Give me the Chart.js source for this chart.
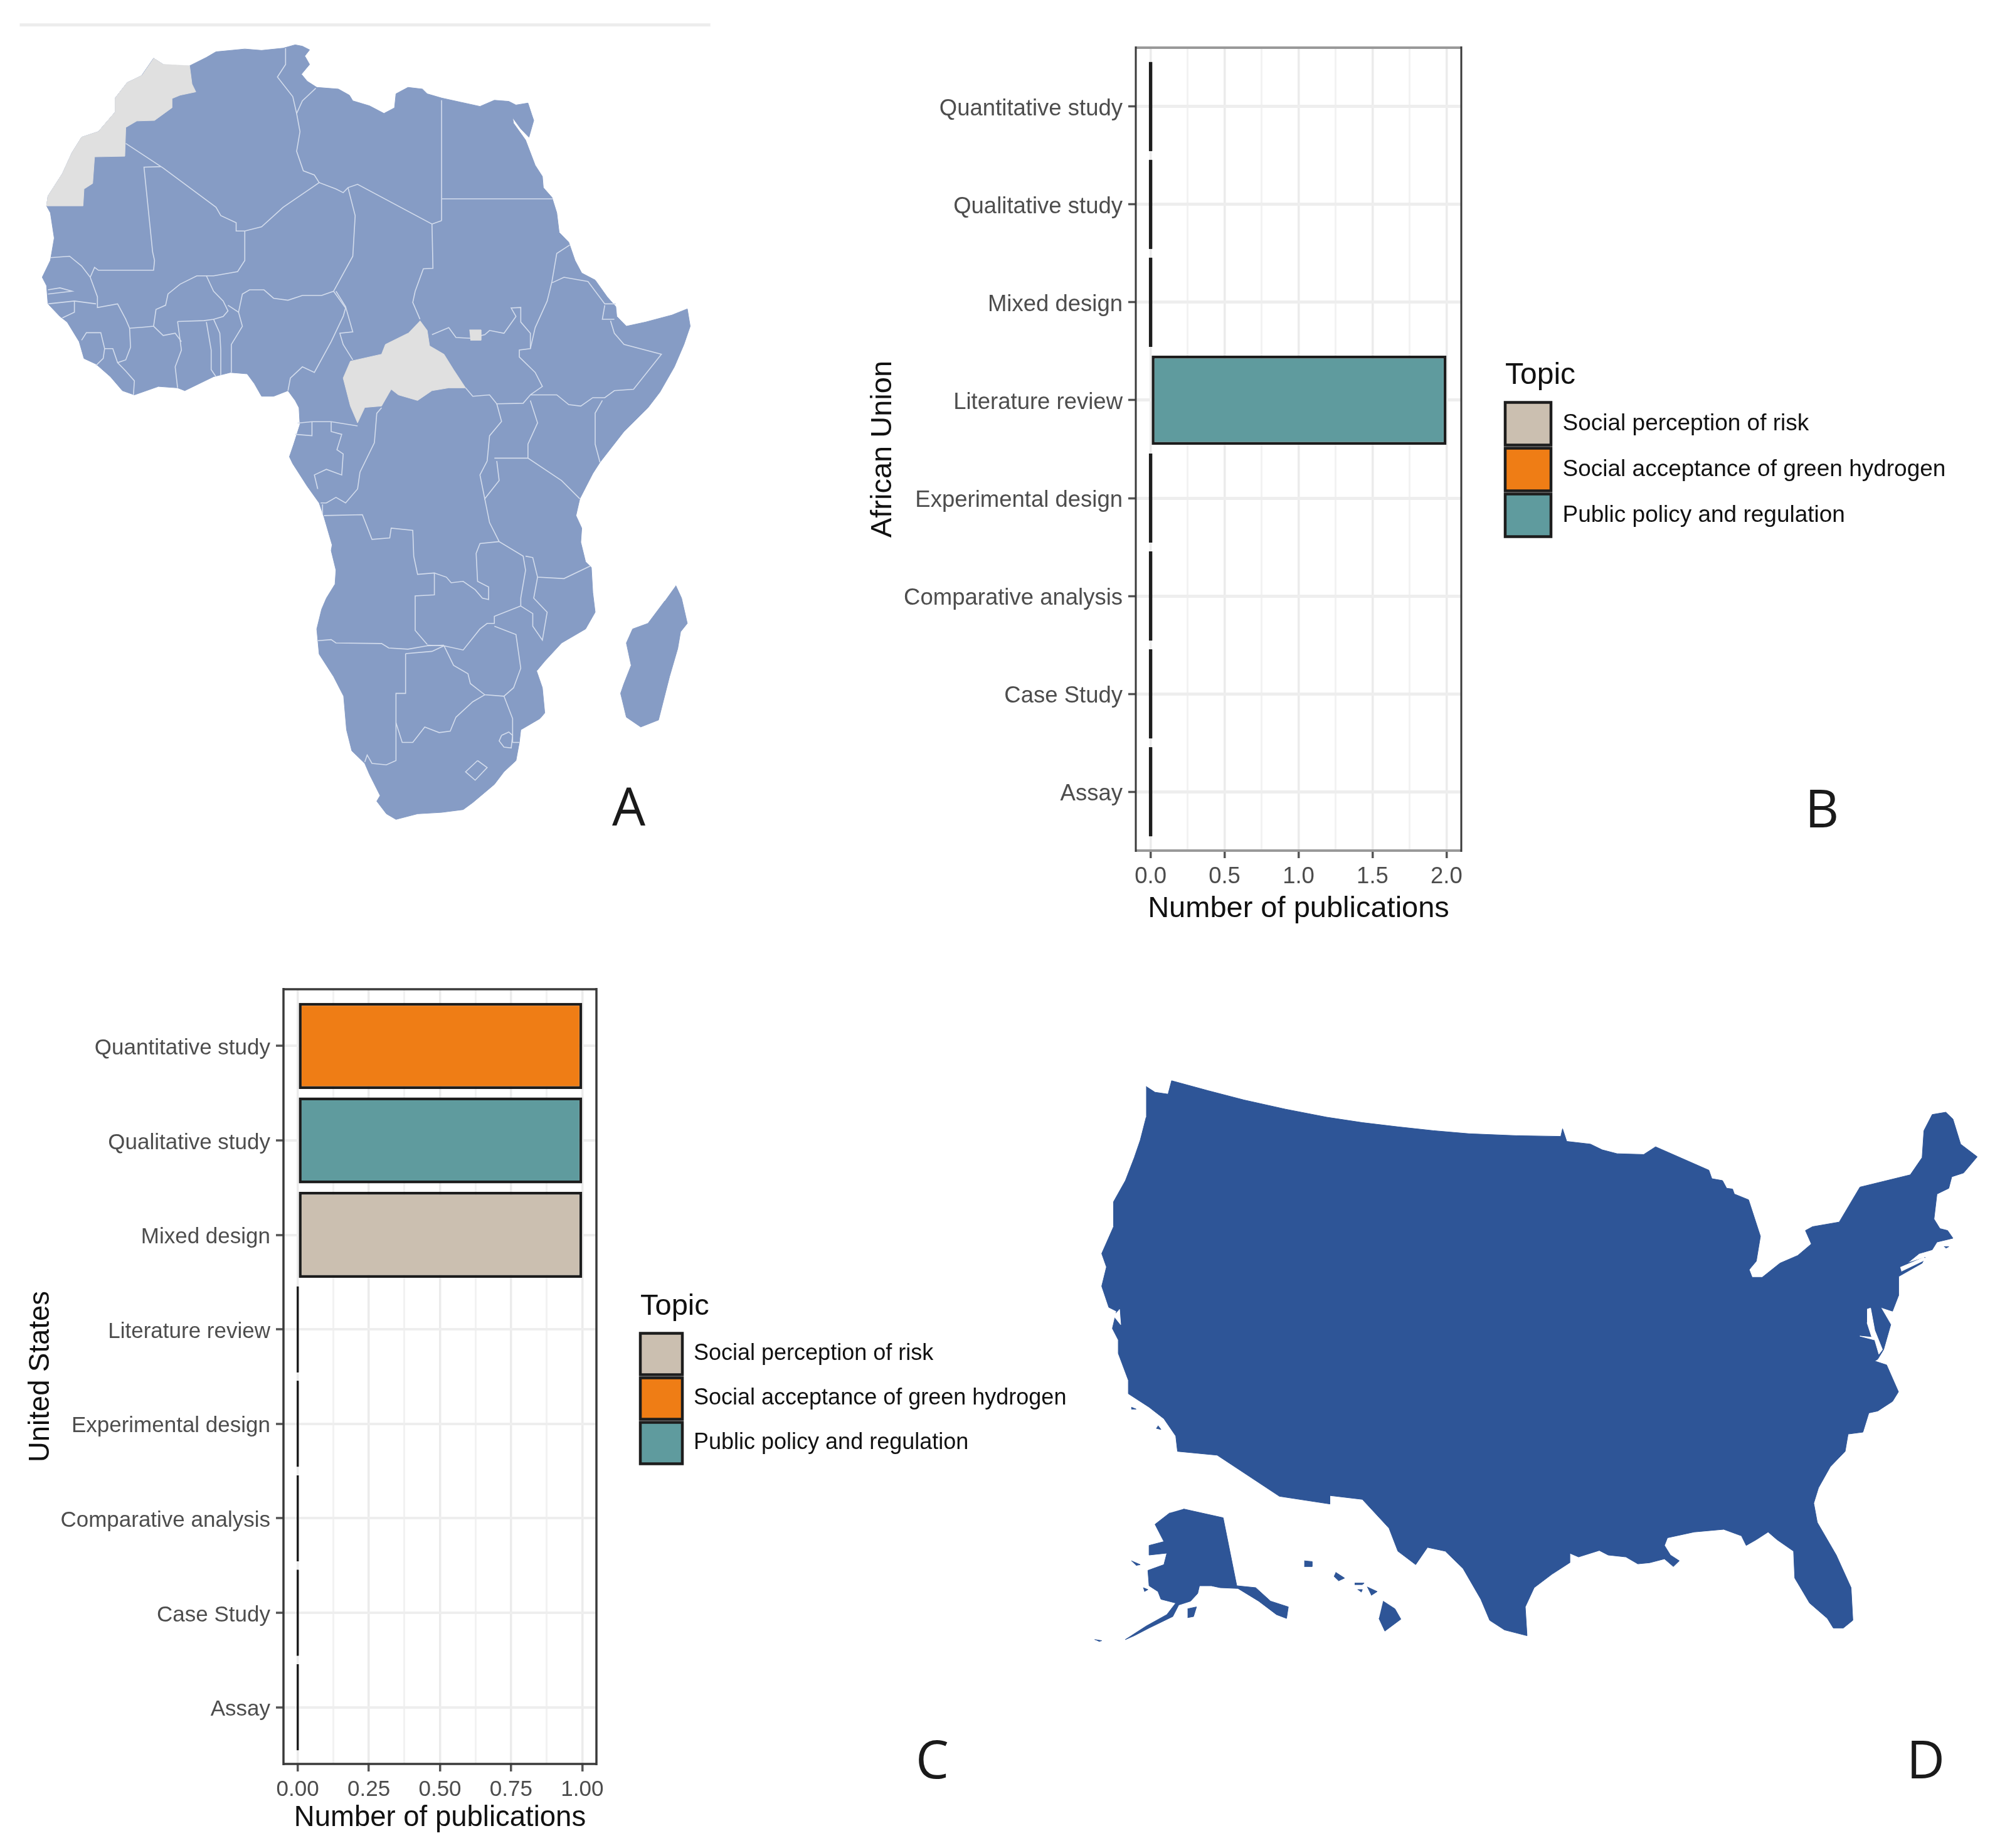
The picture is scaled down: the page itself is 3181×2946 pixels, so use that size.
<!DOCTYPE html>
<html><head><meta charset="utf-8">
<script src="https://cdn.jsdelivr.net/npm/chart.js@4"></script>
<style>
html,body{margin:0;padding:0;background:#fff;width:3181px;height:2946px;overflow:hidden}
canvas{position:absolute;display:block}
.tag{position:absolute;font:84px/1 "Open Sans",sans-serif;color:#1a1a1a}
</style></head><body>
<canvas id="mapA" style="left:0;top:0" width="1200" height="1350"></canvas>
<canvas id="barB" style="left:1360px;top:40px" width="1821" height="1460"></canvas>
<canvas id="barC" style="left:0;top:1540px" width="1720" height="1406"></canvas>
<canvas id="mapD" style="left:1700px;top:1680px" width="1481" height="960"></canvas>
<div class="tag" style="left:976px;top:1242px">A</div>
<div class="tag" style="left:2878px;top:1245px">B</div>
<div class="tag" style="left:1460px;top:2761px">C</div>
<div class="tag" style="left:3040px;top:2761px">D</div>
<script>
// ---------- chart data ----------
const categories = ["Quantitative study","Qualitative study","Mixed design","Literature review","Experimental design","Comparative analysis","Case Study","Assay"];
const topics = ["Social perception of risk","Social acceptance of green hydrogen","Public policy and regulation"];
const topicColors = ["#CBBFB0","#EF7D15","#5F9B9E"];
const auPerception = [0,0,0,null,0,0,0,0];
const auAcceptance = [0,0,0,null,0,0,0,0];
const auPolicy     = [0,0,0,2,0,0,0,0];
const usPerception = [null,null,1,0,0,0,0,0];
const usAcceptance = [1,null,null,0,0,0,0,0];
const usPolicy     = [null,1,null,0,0,0,0,0];
const auTicks = [0,0.5,1,1.5,2];
const auGrid  = [0,0.25,0.5,0.75,1,1.25,1.5,1.75,2];
const usTicks = [0,0.25,0.5,0.75,1];
const usGrid  = [0,0.125,0.25,0.375,0.5,0.625,0.75,0.875,1];

// ---------- map outlines ----------
const topRule = [[41,89],[1480,89]];
const africaNorthCoast = [[395,235],[430,205],[450,185],[510,175],[545,180],[590,172],[615,160],[630,165],[645,178],[635,200],[645,230],[628,265],[640,290],[660,312],[705,318],[728,340],[735,360],[770,378],[800,405],[822,385],[825,335],[850,312],[880,318],[890,335],[920,350],[960,365],[1000,380],[1030,358],[1060,362],[1075,375],[1100,368],[1108,410],[1112,430],[1102,490],[1085,460],[1068,420],[1070,440],[1095,500],[1115,590],[1130,630],[1132,670],[1150,705],[1160,760],[1165,830],[1185,865],[1198,930],[1212,975],[1240,1000],[1265,1060],[1283,1095],[1285,1130],[1305,1165],[1345,1150],[1400,1125],[1432,1103],[1438,1165],[1425,1230],[1405,1310],[1375,1400],[1350,1456]];
const africaSouthCoast = [[1300,85],[1250,195],[1235,235],[1208,325],[1200,385],[1212,430],[1210,480],[1220,550],[1232,570],[1235,660],[1240,730],[1220,790],[1170,840],[1135,905],[1118,940],[1130,1000],[1135,1090],[1125,1110],[1085,1150],[1082,1195],[1075,1260],[1050,1300],[1030,1345],[985,1410],[965,1435],[920,1445],[870,1450],[825,1470],[805,1450],[785,1405],[792,1385],[770,1310],[760,1270],[733,1225],[722,1150],[716,1030],[695,960],[665,880],[660,790],[670,720],[680,680],[698,630],[700,580],[690,510],[692,490],[675,390],[665,340],[640,280],[610,200],[603,175],[612,130],[625,60],[623,0]];
const africaWestCoast = [[615,1430],[600,1395],[570,1415],[545,1415],[530,1370],[515,1335],[480,1330],[445,1345],[385,1395],[370,1385],[330,1380],[280,1410],[255,1395],[230,1345],[200,1300],[175,1280],[165,1220],[140,1150],[125,1130],[100,1085],[97,1020],[88,990],[105,930],[113,850],[105,760],[97,735],[100,700],[130,620],[150,545],[170,490],[205,470],[240,400],[240,350],[265,295],[295,270],[320,208],[340,230]];
const madagascar = [[1408,635],[1420,680],[1432,770],[1418,800],[1412,860],[1395,960],[1372,1115],[1335,1140],[1305,1105],[1293,1020],[1300,985],[1315,920],[1305,840],[1318,790],[1350,770],[1385,690]];
const moroccoSahara = [[320,208],[340,230],[395,235],[400,300],[408,328],[375,340],[358,352],[358,385],[322,430],[285,432],[262,455],[260,558],[197,560],[193,655],[175,675],[173,735],[97,735],[100,700],[130,620],[150,545],[170,490],[205,470],[240,400],[240,350],[265,295],[295,270]];
const centralAfrica = [[875,1145],[890,1180],[895,1235],[925,1265],[945,1320],[970,1385],[935,1385],[900,1395],[870,1430],[830,1410],[815,1390],[795,1450],[760,1455],[745,1510],[730,1450],[715,1350],[730,1290],[795,1265],[803,1230],[850,1190]];
const greySquare = [[978,1178],[1002,1178],[1002,1215],[980,1215]];
const bordersNorth = [
 [[262,512],[340,600],[450,740],[460,770],[492,795],[492,825],[510,825],[545,810],[590,740],[665,652],[700,675],[715,688],[725,670],[745,658],[900,800],[920,788]],
 [[595,172],[595,230],[578,275],[610,345],[618,405],[625,470],[618,540],[632,610],[655,625],[665,652]],
 [[658,315],[630,360],[618,405]],
 [[920,358],[920,788]],[[920,710],[1152,710]],
 [[900,800],[902,958],[882,960],[865,1040],[860,1080],[875,1140]],
 [[335,595],[300,597],[318,900],[322,930],[320,965],[240,965],[205,965],[197,955],[188,990]],
 [[105,920],[145,915],[170,950],[188,990]],
 [[188,990],[203,1060],[203,1098],[245,1085],[262,1140],[270,1172],[300,1168],[320,1165],[325,1105],[345,1090],[350,1050],[375,1015],[410,985],[445,985],[495,970],[510,930],[510,825]],
 [[430,985],[445,1040],[465,1075],[475,1110],[465,1130],[445,1140],[425,1145],[370,1148]],
 [[475,1090],[497,1115],[505,1050],[520,1035],[550,1035],[570,1065],[600,1072],[630,1055],[670,1055],[695,1040],[735,915],[740,770],[725,670]],
 [[695,1040],[720,1100],[715,1130],[690,1220],[655,1330],[630,1310],[605,1350],[600,1395]],
 [[700,1040],[720,1095],[735,1185],[708,1190],[715,1230],[735,1285]],
 [[445,1140],[458,1190],[460,1250],[460,1340]],
 [[497,1115],[505,1165],[482,1230],[482,1330]],
 [[430,1150],[440,1250],[440,1320],[450,1345]],
 [[370,1148],[378,1250],[365,1310],[370,1385]],
 [[320,1165],[340,1198],[365,1190],[378,1220]],
 [[270,1172],[272,1240],[262,1285],[245,1295],[235,1245],[218,1245]],
 [[245,1295],[262,1325],[280,1360],[278,1410]],
 [[170,1215],[180,1188],[210,1188],[218,1245],[215,1280],[200,1305]],
 [[100,1085],[155,1075],[200,1085]],[[155,1075],[155,1115],[130,1135]],
 [[100,1050],[150,1040],[125,1028],[100,1035]],
 [[1187,875],[1160,905],[1150,1005],[1140,1075],[1115,1170],[1105,1245],[1082,1250],[1082,1275],[1115,1330],[1130,1380],[1105,1410]],
 [[900,1195],[935,1170],[950,1205],[980,1208],[1010,1195],[1020,1180],[1050,1190],[1075,1130],[1065,1100],[1085,1098],[1085,1150],[1105,1190],[1105,1245]],
 [[1150,1010],[1175,990],[1225,1005],[1260,1085],[1283,1085]],
 [[1260,1090],[1255,1140],[1280,1140]],
 [[1272,1145],[1280,1190],[1300,1230],[1378,1265],[1320,1390],[1280,1395],[1260,1420],[1235,1420],[1210,1450],[1185,1445],[1160,1410],[1105,1410]],
 [[970,1385],[985,1415],[1020,1410],[1035,1442],[1090,1440],[1105,1410]],
 [[1105,1430],[1120,1510],[1100,1586],[1100,1636]],
 [[1035,1442],[1045,1505],[1020,1556],[1015,1646]],
 [[1255,1430],[1240,1475],[1240,1586],[1250,1651]]
];
const bordersSouth = [
 [[1030,180],[1100,180],[1170,260],[1208,325]],
 [[1015,190],[1000,240],[1010,325],[1040,260],[1035,190]],
 [[620,55],[650,50],[690,50],[745,65]],[[650,50],[650,100],[615,95]],
 [[690,50],[690,85],[712,95],[702,150],[715,165],[712,240],[680,220],[655,240],[662,290]],
 [[795,0],[785,20],[780,125],[750,230],[745,290],[720,340],[700,320],[680,340],[668,340]],
 [[672,345],[672,380]],
 [[675,385],[755,382],[775,470],[812,465],[815,430],[860,438],[862,530],[870,595],[905,590],[905,668],[865,672],[865,795],[890,845]],
 [[905,590],[930,605],[940,625],[965,620],[990,650],[1005,680],[1018,685],[1018,640],[995,620],[992,520],[1000,485],[1040,478]],
 [[1010,325],[1020,410],[1040,478],[1090,530],[1095,580],[1085,680],[1085,708],[1030,745],[1030,770],[1015,770],[1000,790],[965,865],[925,850],[890,848]],
 [[1095,530],[1110,535],[1120,605],[1175,610],[1230,565]],
 [[1120,605],[1112,680],[1140,730],[1130,830],[1110,780],[1110,735],[1085,708]],
 [[1030,780],[1075,810],[1085,930],[1070,1000],[1050,1030],[1010,1025],[980,985],[975,950],[945,920],[925,850]],
 [[660,832],[690,828],[700,840],[795,842],[810,858],[850,862],[890,850],[925,848]],
 [[845,878],[845,1020],[825,1020],[825,1260],[805,1275],[775,1270],[765,1240],[760,1265]],
 [[845,878],[900,870],[925,850]],
 [[825,1125],[838,1195],[860,1195],[885,1140],[915,1160],[938,1155],[950,1105],[985,1050],[1010,1025]],
 [[1050,1030],[1068,1110],[1068,1195],[1082,1195]],
 [[1045,1170],[1060,1158],[1068,1170],[1065,1215],[1050,1212],[1040,1190],[1045,1170]],
 [[995,1260],[1015,1285],[990,1330],[970,1300],[995,1260]]
];
const usMainland = [[135,85],[150,100],[172,105],[178,70],[240,96],[300,120],[370,144],[440,165],[500,179],[560,190],[620,200],[680,208],[760,213],[835,215],[838,195],[845,228],[885,235],[905,250],[930,260],[975,262],[995,242],[1085,303],[1090,325],[1108,330],[1115,350],[1125,352],[1128,365],[1152,380],[1172,475],[1165,540],[1153,562],[1158,582],[1175,582],[1205,545],[1235,525],[1258,495],[1248,460],[1260,450],[1305,438],[1340,347],[1425,315],[1445,270],[1448,200],[1462,158],[1485,152],[1497,170],[1510,235],[1538,268],[1515,310],[1495,320],[1490,350],[1470,365],[1465,430],[1475,455],[1488,460],[1497,480],[1470,490],[1462,510],[1440,520],[1420,545],[1450,530],[1445,545],[1405,580],[1405,630],[1395,670],[1375,660],[1392,705],[1380,770],[1370,795],[1365,800],[1385,810],[1405,880],[1395,905],[1370,930],[1355,935],[1345,985],[1320,990],[1315,1035],[1290,1075],[1270,1130],[1262,1170],[1268,1220],[1300,1305],[1325,1390],[1328,1475],[1312,1495],[1295,1495],[1285,1470],[1255,1430],[1230,1365],[1228,1295],[1200,1265],[1185,1245],[1165,1265],[1148,1280],[1140,1255],[1110,1238],[1060,1245],[1015,1260],[1010,1280],[1020,1305],[1035,1320],[1025,1335],[1010,1315],[985,1325],[965,1328],[945,1310],[915,1305],[900,1293],[865,1310],[850,1300],[850,1325],[820,1355],[790,1390],[775,1440],[778,1515],[740,1500],[715,1475],[700,1420],[670,1340],[640,1295],[610,1285],[590,1330],[560,1295],[545,1235],[500,1160],[445,1150],[445,1172],[360,1152],[255,1045],[188,1035],[185,995],[165,950],[140,920],[105,885],[105,850],[88,780],[88,745],[78,715],[85,670],[72,660],[60,605],[68,555],[60,520],[80,450],[80,385],[100,330],[115,270],[125,225],[135,165]];
const usAlaska = [[198,1185],[265,1208],[288,1385],[320,1390],[345,1425],[375,1440],[372,1470],[355,1460],[325,1425],[290,1392],[260,1390],[245,1385],[225,1385],[222,1405],[210,1425],[190,1435],[180,1465],[140,1495],[115,1515],[100,1525],[135,1490],[170,1460],[185,1430],[160,1420],[155,1400],[140,1385],[138,1345],[165,1330],[170,1300],[140,1305],[140,1280],[165,1270],[150,1225],[175,1195]];
const usIslands = [
 [[205,1445],[220,1440],[215,1465],[205,1468]],[[110,1320],[125,1330],[118,1332]],[[130,1390],[138,1395],[132,1400]],[[48,1525],[60,1528],[55,1530]],
 [[535,1425],[555,1445],[565,1472],[538,1503],[528,1470]],[[508,1388],[525,1400],[515,1410]],[[455,1350],[470,1365],[460,1372],[452,1360]],[[487,1378],[503,1378],[500,1382],[487,1382]],[[402,1320],[415,1322],[415,1335],[402,1335]],[[492,1395],[500,1395],[498,1402]],
 [[155,968],[160,978],[152,975]],[[110,920],[118,925],[110,925]],[[1482,502],[1490,502],[1485,506]]
];
const usWater = [
 [[1352,665],[1358,662],[1365,720],[1378,770],[1372,782],[1365,745],[1340,735],[1360,738],[1352,700]],
 [[1408,556],[1448,530],[1452,535],[1410,566]],
 [[90,665],[92,705],[80,682]]
];

// ---------- rendering ----------
const SANS = '"Liberation Sans", Arial, sans-serif';
Chart.defaults.animation = false;
Chart.defaults.font.family = SANS;

const panelFrame = {
  id:'panelFrame',
  afterDatasetsDraw(chart, _a, o){
    const {left,right,top,bottom} = chart.chartArea, c = chart.ctx;
    c.save();
    const seg = (x1,y1,x2,y2,col,w)=>{c.strokeStyle=col;c.lineWidth=w;c.beginPath();c.moveTo(x1,y1);c.lineTo(x2,y2);c.stroke();};
    seg(left,top,right,top,o.cap,o.capW);
    seg(left,bottom,right,bottom,o.cap,o.capW);
    seg(left,top-2,left,bottom+2,o.side,o.sideW);
    seg(right,top-2,right,bottom+2,o.side,o.sideW);
    c.restore();
  }
};
const legendPlace = {
  id:'legendPlace',
  afterLayout(chart,_a,o){
    const l = chart.legend, pad = l.options.labels.padding;
    l.left = o.x - pad; l.top = o.y;
    l.right = l.left + 900; l.bottom = l.top + 400;
    l.width = 900; l.height = 400;
    if(!l._titleShifted){
      const draw = l.drawTitle;
      l.drawTitle = function(){ this.ctx.save(); this.ctx.translate(pad,0); draw.call(this); this.ctx.restore(); };
      l._titleShifted = true;
    }
  }
};

function barPanel(id, s){
  const series = s.values;
  const canvas = document.getElementById(id);
  new Chart(canvas,{
    type:'bar',
    plugins:[panelFrame,legendPlace],
    data:{datasets:topics.map((t,k)=>({
      label:t,
      data:series[k].map((v,i)=>({x:v,y:i})),
      backgroundColor:topicColors[k],
      borderColor:'#1d1d1d',
      borderWidth:s.barBorder,
      borderSkipped:false,
      minBarLength:s.zeroBar,
      grouped:false,
      barPercentage:0.91,
      categoryPercentage:1
    }))},
    options:{
      indexAxis:'y',responsive:false,maintainAspectRatio:false,
      layout:{padding:{left:0,top:s.top,right:canvas.width-s.right,bottom:0}},
      scales:{
        x:{type:'linear',min:s.xMin,max:s.xMax,
          afterBuildTicks:a=>{a.ticks=s.grid.map(v=>({value:v}));},
          afterFit:a=>{a.height=canvas.height-s.bottom;},
          grid:{color:c=>s.ticks.includes(c.tick.value)?'#EBEBEB':'#F2F2F2',
                lineWidth:c=>s.ticks.includes(c.tick.value)?s.gridX:s.gridXMinor,
                tickColor:c=>s.ticks.includes(c.tick.value)?'#555':'rgba(0,0,0,0)',
                tickLength:12,tickWidth:3.5},
          border:{display:false},
          ticks:{autoSkip:false,maxRotation:0,minRotation:0,padding:s.xTickPad,color:'#4D4D4D',font:{size:s.tick},
                 callback:v=>s.ticks.includes(v)?v.toFixed(s.dec):''},
          title:{display:true,text:'Number of publications',color:'#111',font:{size:s.axisTitle},padding:{top:0,bottom:s.xTitleBottom}}
        },
        y:{type:'linear',reverse:true,offset:false,min:-0.6,max:7.6,
          afterBuildTicks:a=>{a.ticks=categories.map((_,i)=>({value:i}));},
          afterFit:a=>{a.width=s.left;},
          grid:{offset:false,color:'#EEEEEE',lineWidth:s.gridY,tickColor:'#555',tickLength:12,tickWidth:3.5},
          border:{display:false},
          ticks:{autoSkip:false,padding:9,labelOffset:4,color:'#4D4D4D',font:{size:s.tick},callback:v=>categories[v]},
          title:{display:true,text:s.yTitle,color:'#111',font:{size:s.axisTitle},padding:{top:s.yTitleTop,bottom:0}}
        }
      },
      plugins:{
        tooltip:{enabled:false},
        panelFrame:s.frame,
        legendPlace:{x:s.legendX,y:s.legendY},
        legend:{display:true,position:'chartArea',align:'start',
          title:{display:true,text:'Topic',color:'#111',position:'start',font:{size:s.legendTitle},padding:{top:8,bottom:4}},
          labels:{boxWidth:s.boxW,boxHeight:s.boxH,padding:s.boxGap,color:'#111',font:{size:s.legendFont}}
        }
      }
    }
  });
}

barPanel('barB',{
  values:[auPerception,auAcceptance,auPolicy],ticks:auTicks,grid:auGrid,xMin:-0.1,xMax:2.1,dec:1,
  left:451,top:36,right:970,bottom:1316,yTitle:'African Union',yTitleTop:20,xTitleBottom:23,
  tick:36.5,axisTitle:47,legendTitle:48,legendFont:37,xTickPad:8,
  barBorder:4.5,zeroBar:5.5,gridX:3.5,gridXMinor:3,gridY:5,
  frame:{side:'#3a3a3a',sideW:3,cap:'#999',capW:4},
  legendX:1040,legendY:527,boxW:73,boxH:68,boxGap:5
});
barPanel('barC',{
  values:[usPerception,usAcceptance,usPolicy],ticks:usTicks,grid:usGrid,xMin:-0.05,xMax:1.05,dec:2,
  left:452,top:37,right:951,bottom:1272,yTitle:'United States',yTitleTop:38,xTitleBottom:20,
  tick:35,axisTitle:45.5,legendTitle:47,legendFont:36,xTickPad:8,
  barBorder:4.5,zeroBar:3.5,gridX:3.5,gridXMinor:3,gridY:4,
  frame:{side:'#3a3a3a',sideW:3.5,cap:'#3a3a3a',capW:3.5},
  legendX:1021,legendY:512,boxW:67,boxH:66,boxGap:5
});

function poly(points,color,lineW,fill){
  return {data:points.map(([x,y])=>({x,y})),showLine:true,tension:0,pointRadius:0,
          fill:fill?'shape':false,backgroundColor:color,borderColor:color,borderWidth:lineW,clip:false,spanGaps:true};
}
function mapChart(id,xMax,yMax,layers){
  new Chart(document.getElementById(id),{
    type:'scatter',data:{datasets:layers.slice().reverse()},   // the first dataset is painted last
    options:{responsive:false,maintainAspectRatio:false,layout:{padding:0},
      plugins:{legend:{display:false},tooltip:{enabled:false}},
      scales:{x:{type:'linear',display:false,min:0,max:xMax},y:{type:'linear',display:false,reverse:true,min:0,max:yMax}}}
  });
}
const LOWER = 1456;
const shift = pts => pts.map(([x,y])=>[x,y+LOWER]);
const AFRICA='#869CC5', EDGE='#D3DCEC', GREY='#E0E0E0';
mapChart('mapA',1568,3024,[
  poly(topRule,'#EDEDED',5,false),
  poly([...africaNorthCoast,...shift(africaSouthCoast),...africaWestCoast],AFRICA,1,true),
  poly(shift(madagascar),AFRICA,1,true),
  ...bordersNorth.map(b=>poly(b,EDGE,1.6,false)),
  ...bordersSouth.map(b=>poly(shift(b),EDGE,1.6,false)),
  poly(moroccoSahara,GREY,1,true),
  poly(centralAfrica,GREY,1,true),
  poly(greySquare,GREY,1,true)
]);
const US='#2E5597';
mapChart('mapD',1568,1568,[
  poly(usMainland,US,1,true),
  poly(usAlaska,US,1,true),
  ...usIslands.map(p=>poly(p,US,1,true)),
  ...usWater.map(p=>poly(p,'#FFFFFF',1,true))
]);
</script>
</body></html>
